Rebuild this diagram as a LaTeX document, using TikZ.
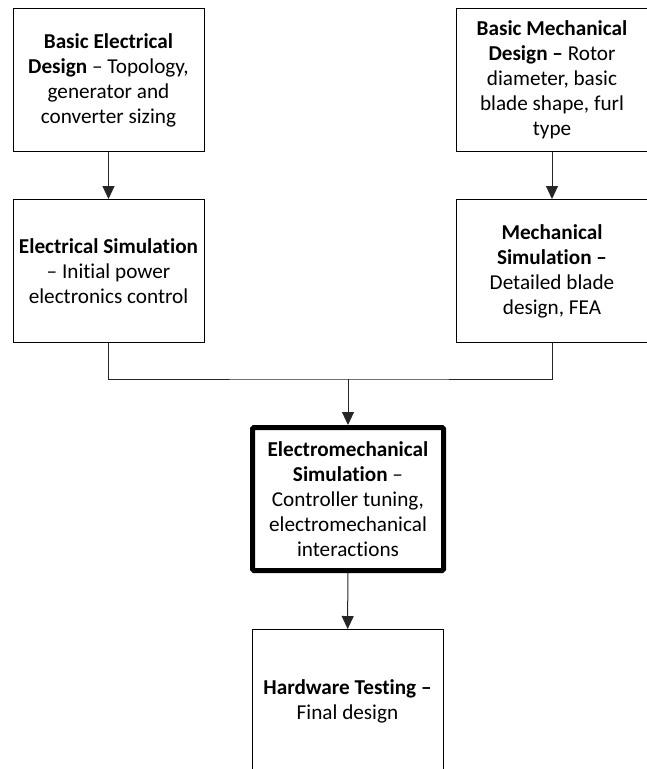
\documentclass[tikz,border=0pt]{standalone}
\usepackage{fontspec}
\setmainfont{Carlito}[Ligatures=NoCommon]
\usetikzlibrary{arrows.meta}
\begin{document}
\begin{tikzpicture}[x=1pt,y=-1pt,
  box/.style={draw=black,line width=1pt,minimum width=191pt,minimum height=143pt,
    inner sep=0pt,align=center,font=\fontsize{21.2}{25}\selectfont},
  thickbox/.style={box,line width=5pt,rounded corners=1.5pt},
  conn/.style={draw=black!85,line width=1pt},
  arr/.style={conn,-{Triangle[length=13pt,width=12pt]}}]
\useasboundingbox (0,0) rectangle (646,769);
\node[box] (be) at (108.5,80) {\textbf{Basic Electrical}\\\textbf{Design} – Topology,\\generator and\\converter sizing};
\node[box] (es) at (108.5,271) {\textbf{Electrical Simulation}\\– Initial power\\electronics control};
\node[box,minimum width=192pt] (bm) at (552,80) {\textbf{Basic Mechanical}\\\textbf{Design –} Rotor\\diameter, basic\\blade shape, furl\\type};
\node[box,minimum width=192pt] (ms) at (552,271) {\textbf{Mechanical}\\\textbf{Simulation –}\\Detailed blade\\design, FEA};
\node[thickbox] (em) at (348,499) {\textbf{Electromechanical}\\\textbf{Simulation} –\\Controller tuning,\\electromechanical\\interactions};
\node[box] (hw) at (347.5,701) {\textbf{Hardware Testing –}\\Final design};
\coordinate (j) at (348,379);
\draw[arr] (be) -- (es);
\draw[arr] (bm) -- (ms);
\draw[conn] (es.south) |- (j) -| (ms.south);
\draw[arr] (j) -- (em.north);
\draw[arr] (em) -- (hw);
\end{tikzpicture}
\end{document}
